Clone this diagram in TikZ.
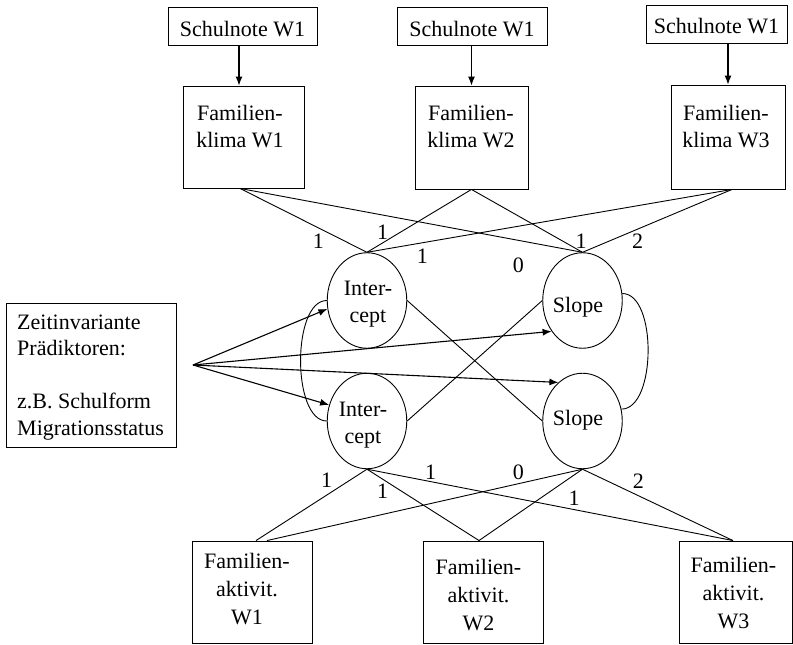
\documentclass[tikz,border=0pt]{standalone}
\usepackage{fontspec}
\setmainfont{Liberation Serif}
\usetikzlibrary{arrows.meta,shapes.geometric}
\begin{document}
\begin{tikzpicture}[x=1pt,y=-1pt,
  every node/.style={font=\fontsize{22}{27}\selectfont, inner sep=0pt},
  box/.style={draw, rectangle, line width=0.9pt},
  sbox/.style={box, minimum height=38pt, text height=29pt, text depth=9pt},
  latent/.style={draw, ellipse, minimum width=79.5pt, minimum height=95.5pt, line width=0.9pt},
  txt/.style={align=center, anchor=north},
  arr/.style={-{Latex[length=9pt,width=7pt]}, line width=1.1pt},
  link/.style={line width=0.9pt}]
\useasboundingbox (0,0) rectangle (793,645);

% Schulnote boxes
\node[sbox, minimum width=149pt] (sn1) at (242.5,26) {Schulnote W1};
\node[sbox, minimum width=150pt] (sn2) at (472,26) {Schulnote W1};
\node[sbox, minimum width=141pt] (sn3) at (716.5,24) {Schulnote W1};

% Familienklima boxes
\node[box, minimum width=121pt, minimum height=102pt] (fk1) at (243.5,137) {};
\node[box, minimum width=113pt, minimum height=103pt] (fk2) at (471.5,137.5) {};
\node[box, minimum width=114pt, minimum height=104pt] (fk3) at (728,137) {};
\node[txt] (tfk1) at (240,105.5) {Familien-\\klima W1};
\node[txt] (tfk2) at (471,105.5) {Familien-\\klima W2};
\node[txt] (tfk3) at (726,105.5) {Familien-\\klima W3};

% Familienaktivitaet boxes
\node[box, minimum width=120pt, minimum height=102pt] (fa1) at (252,592) {};
\node[box, minimum width=120pt, minimum height=102pt] (fa2) at (483,592) {};
\node[box, minimum width=113pt, minimum height=102pt] (fa3) at (735.5,592) {};
\node[txt, font=\fontsize{22}{28}\selectfont] (tfa1) at (247,553.5) {Familien-\\aktivit.\\W1};
\node[txt, font=\fontsize{22}{28}\selectfont] (tfa2) at (478.5,559.5) {Familien-\\aktivit.\\W2};
\node[txt, font=\fontsize{22}{28}\selectfont] (tfa3) at (733.5,557.5) {Familien-\\aktivit.\\W3};

% Predictor box
\node[box, minimum width=170pt, minimum height=144pt] (pred) at (91,375) {};
\node[align=left, anchor=north west, font=\fontsize{22}{26.5}\selectfont] (tpred) at (17,314.5)
  {Zeitinvariante\\Prädiktoren:\\[26.5pt]z.B. Schulform\\Migrationsstatus};
\coordinate (src) at (193,365);

% Latent factors
\node[latent] (i1) at (367,300.5) {};
\node[latent] (s1) at (582.5,300.5) {};
\node[latent] (i2) at (367,421) {};
\node[latent] (s2) at (582.5,421) {};
\node[txt] (ti1) at (368,281) {Inter-\\cept};
\node[txt] (ti2) at (363,401.5) {Inter-\\cept};
\node[anchor=base] (ts1) at (578,312) {Slope};
\node[anchor=base] (ts2) at (578,425) {Slope};

% Arrows Schulnote -> Familienklima
\coordinate (a1) at (239,0);
\draw[arr] (sn1.south -| a1) -- (fk1.north -| a1);
\draw[arr] (sn2.south -| fk2.north) -- (fk2.north);
\draw[arr] (sn3.south -| fk3.north) -- (fk3.north);

% Loadings top
\draw[link] ([xshift=-3.5pt]fk1.south) -- (i1.north);
\draw[link] ([xshift=-3.5pt]fk1.south) -- (s1.north);
\draw[link] (fk2.south) -- (i1.north);
\draw[link] (fk2.south) -- (s1.north);
\draw[link] ([xshift=4pt]fk3.south) -- (i1.north);
\draw[link] ([xshift=4pt]fk3.south) -- (s1.north);

% Loadings bottom
\draw[link] (i2.south) -- ([xshift=4pt]fa1.north);
\draw[link] (i2.south) -- ([xshift=-4pt]fa2.north);
\draw[link] (i2.south) -- ([xshift=-2.5pt]fa3.north);
\draw[link] (s2.south) -- ([xshift=15pt]fa1.north);
\draw[link] (s2.south) -- ([xshift=-4pt]fa2.north);
\draw[link] (s2.south) -- ([xshift=-2.5pt]fa3.north);

% Cross paths
\draw[link] (i1.east) -- (s2.west);
\draw[link] (i2.east) -- (s1.west);

% Predictor arrows
\draw[arr] (src) -- (i1.192);
\draw[arr] (src) -- (s1.225);
\draw[arr] (src) -- (s2.122);
\draw[arr] (src) -- (i2.157);

% Covariances
\draw[link] (i1.west) .. controls +(-35,0) and +(-35,0) .. (i2.west);
\draw[link] (s1.10) .. controls +(35,0) and +(35,0) .. (s2.17);

% Loading labels top
\node (l1) at (318.3,241.7) {1};
\node (l2) at (382.7,232.7) {1};
\node (l3) at (422.3,256.7) {1};
\node (l4) at (518.3,265) {0};
\node (l5) at (581,241.7) {1};
\node (l6) at (637.7,241.7) {2};

% Loading labels bottom
\node (l7) at (326.7,480) {1};
\node (l8) at (382.7,491) {1};
\node (l9) at (430.7,472.7) {1};
\node (l10) at (518.3,472.7) {0};
\node (l11) at (574,498.3) {1};
\node (l12) at (638.3,481.7) {2};
\end{tikzpicture}
\end{document}
